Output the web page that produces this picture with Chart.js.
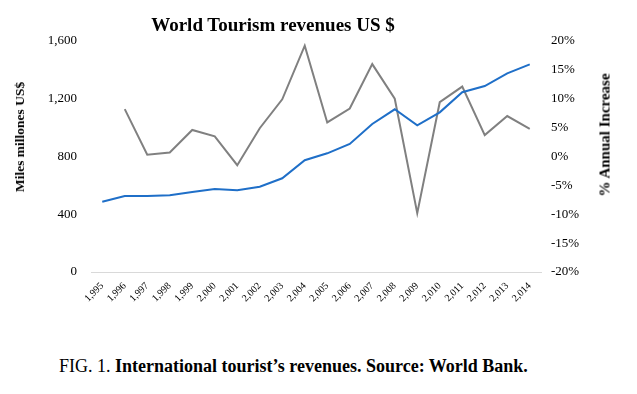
<!DOCTYPE html>
<html lang="en">
<head>
  <meta charset="UTF-8" />
  <title>World Tourism revenues US $</title>
  <style>
    body {
      margin: 0;
      background: #ffffff;
      font-family: "Liberation Serif", "Times New Roman", serif;
      color: #000;
    }
    .wrap {
      position: relative;
      width: 637px;
      height: 394px;
    }
    #titulo {
      position: absolute;
      left: 0;
      top: 14px;
      width: 546px;
      text-align: center;
      font-weight: bold;
      font-size: 19px;
    }
    .eje {
      position: absolute;
      font-weight: bold;
      white-space: nowrap;
      transform: translate(-50%, -50%) rotate(-90deg);
    }
    #ejeIzq { left: 20px; top: 137px; font-size: 13.5px; }
    #ejeDer { left: 605px; top: 135px; font-size: 15px; }
    #pie {
      position: absolute;
      left: 59px;
      top: 356px;
      font-size: 18px;
    }
    canvas {
      position: absolute;
      left: 0;
      top: 0;
    }
  </style>
</head>
<body>
  <div class="wrap">
    <canvas id="grafico" width="637" height="340"></canvas>
    <div id="titulo">World Tourism revenues US $</div>
    <div class="eje" id="ejeIzq">Miles millones US$</div>
    <div class="eje" id="ejeDer">% Annual Increase</div>
    <div id="pie">FIG. 1. <b>International tourist’s revenues. Source: World Bank.</b></div>
  </div>

  <script src="https://cdn.jsdelivr.net/npm/chart.js"></script>
  <script>
    const anios = ["1,995", "1,996", "1,997", "1,998", "1,999", "2,000", "2,001", "2,002", "2,003", "2,004",
                   "2,005", "2,006", "2,007", "2,008", "2,009", "2,010", "2,011", "2,012", "2,013", "2,014"];
    const ingresos = [487, 526, 526, 531, 554, 575, 566, 591, 649, 774,
                      822, 887, 1025, 1127, 1016, 1106, 1245, 1288, 1376, 1438];
    const incremento = [null, 8.2, 0.3, 0.7, 4.6, 3.5, -1.5, 4.9, 9.9, 19.2,
                        5.9, 8.3, 16.0, 10.0, -9.8, 9.4, 12.1, 3.7, 7.0, 4.8];

    Chart.defaults.font.family = "'Liberation Serif', 'Times New Roman', serif";
    Chart.defaults.color = "#000";

    new Chart(document.getElementById("grafico").getContext("2d"), {
      type: "line",
      data: {
        labels: anios,
        datasets: [
          {
            label: "Revenues",
            data: ingresos,
            yAxisID: "y",
            borderColor: "#1f6fc8",
            borderWidth: 2,
            pointRadius: 0,
            tension: 0,
          },
          {
            label: "% Annual Increase",
            data: incremento,
            yAxisID: "y1",
            borderColor: "#808080",
            borderWidth: 2,
            pointRadius: 0,
            tension: 0,
          },
        ],
      },
      options: {
        responsive: false,
        animation: false,
        layout: { padding: { top: 41, left: 0, right: 0, bottom: 0 } },
        plugins: {
          legend: { display: false },
          tooltip: { enabled: false },
        },
        scales: {
          x: {
            offset: true,
            grid: { display: false },
            border: { display: true, color: "#d9d9d9", width: 1 },
            ticks: {
              font: { size: 10 },
              maxRotation: 45,
              minRotation: 45,
              autoSkip: false,
              padding: 0,
            },
            afterFit: (s) => { s.height = 68; },
          },
          y: {
            position: "left",
            min: 0,
            max: 1600,
            grid: { display: false },
            border: { display: false },
            ticks: {
              stepSize: 400,
              font: { size: 13 },
              padding: 6,
              callback: (v) => v.toLocaleString("en-US"),
            },
            afterFit: (s) => { s.width = 91; },
          },
          y1: {
            position: "right",
            min: -20,
            max: 20,
            grid: { display: false },
            border: { display: false },
            ticks: {
              stepSize: 5,
              font: { size: 13 },
              padding: 2,
              callback: (v) => v + "%",
            },
            afterFit: (s) => { s.width = 96; },
          },
        },
      },
    });
  </script>
</body>
</html>
